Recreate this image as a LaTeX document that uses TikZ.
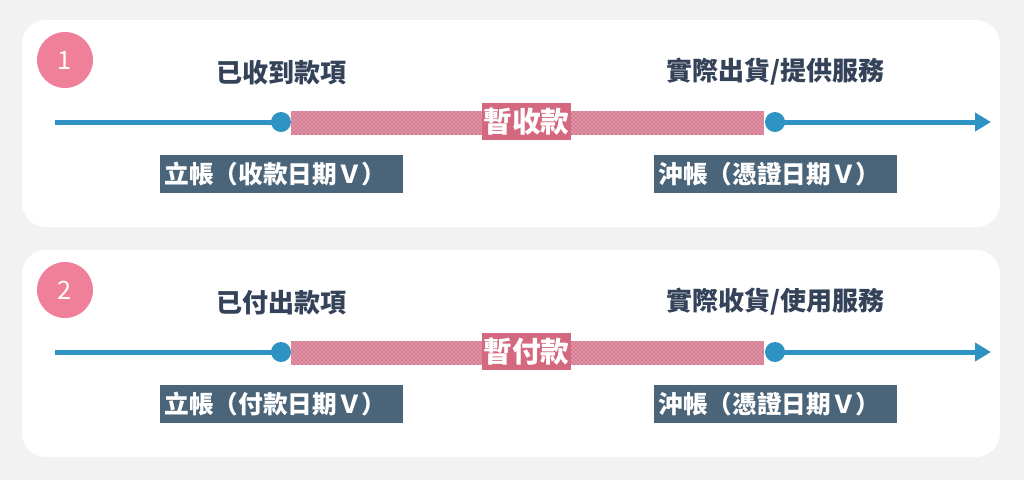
\documentclass[tikz,border=0pt]{standalone}
\usepackage{fontspec}
\newfontfamily\cjk{Noto Sans CJK TC}
\usetikzlibrary{positioning,arrows.meta,patterns}

\definecolor{bgGray}{HTML}{F2F2F2}
\definecolor{numPink}{HTML}{F07F99}
\definecolor{barPink}{HTML}{D67C93}
\definecolor{tagPink}{HTML}{D4687F}
\definecolor{lineBlue}{HTML}{2E93C2}
\definecolor{boxSlate}{HTML}{4A6479}
\definecolor{textNavy}{HTML}{34435A}

\tikzset{
    panel/.style={fill=white, rounded corners=18pt},
    numdot/.style={circle, fill=numPink, minimum size=42pt, inner sep=0pt,
        text=white, font=\cjk\fontsize{19}{19}\selectfont},
    tldot/.style={circle, fill=lineBlue, minimum size=15pt, inner sep=0pt},
    tline/.style={draw=lineBlue, line width=3.75pt},
    toplabel/.style={inner sep=0pt, text=textNavy, font=\cjk\bfseries\fontsize{19.5}{20}\selectfont},
    entrybox/.style={fill=boxSlate, text=white, inner xsep=3.75pt, inner ysep=0pt,
        text width=174.75pt, minimum height=28.5pt, align=left,
        font=\cjk\bfseries\fontsize{18.5}{19}\selectfont},
    holdbar/.style={fill=barPink, minimum width=354.75pt, minimum height=18pt, inner sep=0pt,
        postaction={pattern=crosshatch dots, pattern color=white!80!barPink}},
    holdtag/.style={fill=tagPink, text=white, minimum width=66.75pt, minimum height=27.75pt,
        inner sep=0pt, font=\cjk\bfseries\fontsize{21.5}{22}\selectfont}
}

\begin{document}
\begin{tikzpicture}[x=0.75pt, y=-0.75pt]
    % Background and panels
    \fill[bgGray] (0,0) rectangle (1024,480);
    \useasboundingbox (0,0) rectangle (1024,480);
    \fill[panel] (22,20) rectangle (1000,227);
    \fill[panel] (22,250) rectangle (1000,457);

    % Two timelines
    \foreach \oy/\n/\start/\settle/\hold/\openkind in {
        0/1/{已收到款項}/{實際出貨/提供服務}/{暫收款}/{收款},
        230/2/{已付出款項}/{實際收貨/使用服務}/{暫付款}/{付款}}
    {
        \node[numdot] (num\n) at (65,60+\oy) {\n};

        % Timeline
        \coordinate (lstart\n) at (55,122+\oy);
        \coordinate (lend\n) at (991,122+\oy);
        \node[holdbar] (bar\n) at (527.5,123+\oy) {};
        \node[tldot] (dotA\n) at (281,122+\oy) {};
        \node[tldot] (dotB\n) at (775,122+\oy) {};
        \draw[tline] (lstart\n) -- (dotA\n.center);
        \draw[tline, -{Triangle[length=12pt, width=13.5pt]}] (dotB\n.center) -- (lend\n);
        \node[holdtag] (tag\n) at (526.5,121.5+\oy) {\hold};

        % Labels
        \node[toplabel, above=20pt of dotA\n] (begin\n) {\start};
        \node[toplabel, above=20pt of dotB\n] (finish\n) {\settle};
        \node[entrybox, below=17pt of dotA\n] (book\n) {立帳（\openkind 日期Ｖ）};
        \node[entrybox, below=17pt of dotB\n] (clear\n) {沖帳（憑證日期Ｖ）};
    }
\end{tikzpicture}
\end{document}
